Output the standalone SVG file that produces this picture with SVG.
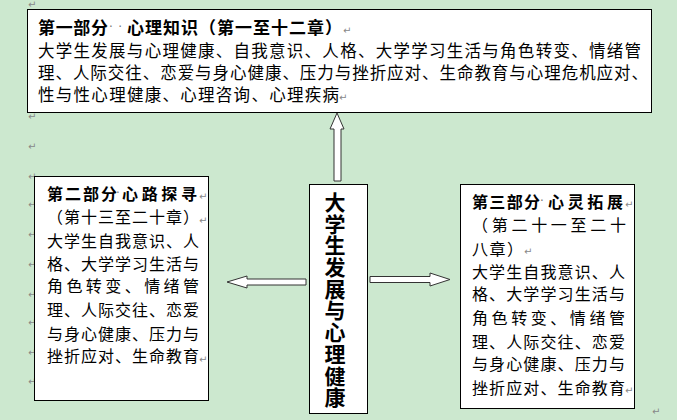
<svg xmlns="http://www.w3.org/2000/svg" width="677" height="420" viewBox="0 0 677 420">
<defs>
<style>
.bg{fill:#cce8cf}
.box{fill:#fff;stroke:#000;stroke-width:1}
.arr{fill:#fff;stroke:#333;stroke-width:1}
.t{font-family:"Noto Sans CJK SC","Noto Sans CJK TC",sans-serif;fill:#000}
.t17{font-size:17px}
.t165{font-size:16.5px}
.t16{font-size:16px}
.b{font-weight:bold}
.pm{font-family:"DejaVu Sans",sans-serif;font-size:10px;fill:#888}
.dot{font-family:"DejaVu Sans",sans-serif;font-size:12px;fill:#777}
.vt{font-family:"Noto Sans CJK SC",sans-serif;font-size:21px;font-weight:bold;fill:#000;writing-mode:vertical-rl}
</style>
</defs>
<rect class="bg" x="0" y="0" width="677" height="420"/>
<g id="marks">
<text class="pm" x="28" y="8">↵</text>
<text class="pm" x="28" y="120">↵</text>
<text class="pm" x="28" y="150">↵</text>
<text class="pm" x="28" y="180">↵</text>
<text class="pm" x="28" y="208">↵</text>
<text class="pm" x="28" y="238">↵</text>
<text class="pm" x="28" y="268">↵</text>
<text class="pm" x="28" y="298">↵</text>
<text class="pm" x="28" y="326">↵</text>
<text class="pm" x="28" y="356">↵</text>
<text class="pm" x="28" y="385">↵</text>
<text class="pm" x="652" y="415">↵</text>
</g>
<g id="connectors">
<polygon class="arr" points="337,113 344,129 341,129 341,181 334,181 334,129 330,129"/>
<polygon class="arr" points="227,282 247,276 247,279 306,279 306,285 247,285 247,288"/>
<polygon class="arr" points="370,276.5 430,276.5 430,273 450,279.5 430,286 430,282.5 370,282.5"/>
</g>
<g id="part1">
<rect class="box" x="27.5" y="9.5" width="624" height="103"/>
<text class="t t17 b" x="38" y="33.5" textLength="70" lengthAdjust="spacing">第一部分</text>
<text class="dot" x="109" y="31" textLength="13" lengthAdjust="spacing">··</text>
<text class="t t17 b" x="127" y="33.5" textLength="215" lengthAdjust="spacing">心理知识（第一至十二章）</text>
<text class="pm" x="343" y="34">↵</text>
<text class="t t165" x="38" y="56.5" textLength="603" lengthAdjust="spacing">大学生发展与心理健康、自我意识、人格、大学学习生活与角色转变、情绪管</text>
<text class="t t165" x="38" y="79" textLength="610" lengthAdjust="spacing">理、人际交往、恋爱与身心健康、压力与挫折应对、生命教育与心理危机应对、</text>
<text class="t t165" x="38" y="101" textLength="301" lengthAdjust="spacing">性与性心理健康、心理咨询、心理疾病</text>
<text class="pm" x="339" y="101">↵</text>
</g>
<g id="part2">
<rect class="box" x="34.5" y="176.5" width="174" height="224"/>
<text class="t t16 b" x="47" y="199.5" textLength="70" lengthAdjust="spacing">第二部分</text>
<text class="dot" x="116" y="197">·</text>
<text class="t t16 b" x="122" y="199.5" textLength="75" lengthAdjust="spacing">心路探寻</text>
<text class="pm" x="199" y="200">↵</text>
<text class="t t16" x="47" y="223" textLength="152" lengthAdjust="spacing">（第十三至二十章）</text>
<text class="pm" x="199" y="223.5">↵</text>
<text class="t t16" x="47" y="246.5" textLength="152" lengthAdjust="spacing">大学生自我意识、人</text>
<text class="t t16" x="47" y="270" textLength="152" lengthAdjust="spacing">格、大学学习生活与</text>
<text class="t t16" x="47" y="292" textLength="152" lengthAdjust="spacing">角色转变、情绪管</text>
<text class="t t16" x="47" y="315.5" textLength="152" lengthAdjust="spacing">理、人际交往、恋爱</text>
<text class="t t16" x="47" y="339.5" textLength="152" lengthAdjust="spacing">与身心健康、压力与</text>
<text class="t t16" x="47" y="362" textLength="152" lengthAdjust="spacing">挫折应对、生命教育</text>
<text class="pm" x="199" y="362.5">↵</text>
</g>
<g id="center">
<rect class="box" x="309.5" y="184.5" width="58" height="229"/>
<text class="vt" x="335" y="191.5" letter-spacing="0.7">大学生发展与心理健康</text>
</g>
<g id="part3">
<rect class="box" x="460.5" y="184.5" width="174" height="224"/>
<text class="t t16 b" x="472" y="207.5" textLength="68" lengthAdjust="spacing">第三部分</text>
<text class="dot" x="540" y="205">·</text>
<text class="t t16 b" x="548" y="207.5" textLength="75" lengthAdjust="spacing">心灵拓展</text>
<text class="pm" x="625" y="208">↵</text>
<text class="t t16" x="472" y="231" textLength="154" lengthAdjust="spacing">（第二十一至二十</text>
<text class="t t16" x="472" y="254.5" textLength="51" lengthAdjust="spacing">八章）</text>
<text class="pm" x="524" y="255">↵</text>
<text class="t t16" x="472" y="278" textLength="153" lengthAdjust="spacing">大学生自我意识、人</text>
<text class="t t16" x="472" y="300" textLength="153" lengthAdjust="spacing">格、大学学习生活与</text>
<text class="t t16" x="472" y="323.5" textLength="153" lengthAdjust="spacing">角色转变、情绪管</text>
<text class="t t16" x="472" y="347.5" textLength="153" lengthAdjust="spacing">理、人际交往、恋爱</text>
<text class="t t16" x="472" y="370" textLength="153" lengthAdjust="spacing">与身心健康、压力与</text>
<text class="t t16" x="472" y="393.5" textLength="153" lengthAdjust="spacing">挫折应对、生命教育</text>
<text class="pm" x="625" y="394">↵</text>
</g>
</svg>
